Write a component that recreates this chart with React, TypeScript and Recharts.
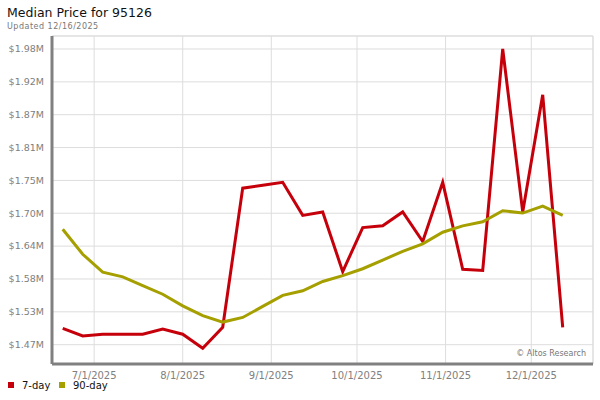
import { LineChart, Line, XAxis, YAxis, CartesianGrid, ReferenceLine } from 'recharts';

// weekly snapshots
const weekDates = [
  '2025-06-20', '2025-06-27', '2025-07-04', '2025-07-11', '2025-07-18', '2025-07-25',
  '2025-08-01', '2025-08-08', '2025-08-15', '2025-08-22', '2025-08-29', '2025-09-05',
  '2025-09-12', '2025-09-19', '2025-09-26', '2025-10-03', '2025-10-10', '2025-10-17',
  '2025-10-24', '2025-10-31', '2025-11-07', '2025-11-14', '2025-11-21', '2025-11-28',
  '2025-12-05', '2025-12-12',
];

const sevenDay = [
  1498000, 1485000, 1488000, 1488000, 1488000, 1497000, 1488000, 1464000, 1500000,
  1740000, 1745000, 1750000, 1693000, 1699000, 1596000, 1672000, 1675000, 1699000,
  1648000, 1750000, 1600000, 1598000, 1980000, 1699000, 1901000, 1500000,
];

const ninetyDay = [
  1669000, 1626000, 1595000, 1587000, 1572000, 1557000, 1537000, 1520000, 1509000,
  1517000, 1536000, 1555000, 1563000, 1579000, 1589000, 1601000, 1616000, 1631000,
  1644000, 1664000, 1675000, 1682000, 1701000, 1697000, 1709000, 1693000,
];

const monthTicks = ['2025-07-01', '2025-08-01', '2025-09-01', '2025-10-01', '2025-11-01', '2025-12-01'];
const priceTicks = [1470000, 1526700, 1583300, 1640000, 1696700, 1753300, 1810000, 1866700, 1923300, 1980000];

const seriesKeys = ['sevenDay', 'ninetyDay'];
const seriesNames = ['7-day', '90-day'];
const seriesColors = ['#c6000b', '#a59f00'];

const DAY = 86400000;
const toTime = (d: string) => Date.parse(d + 'T00:00:00Z');

function formatDate(t: number) {
  const d = new Date(t);
  return `${d.getUTCMonth() + 1}/${d.getUTCDate()}/${d.getUTCFullYear()}`;
}

const formatPrice = (v: number) => `$${(v / 1e6).toFixed(2)}M`;

const data = weekDates.map((d, i) => ({
  t: toTime(d),
  sevenDay: sevenDay[i],
  ninetyDay: ninetyDay[i],
}));

const start = toTime(weekDates[0]);
const xDomain: [number, number] = [start - 3.75 * DAY, start + 185.6 * DAY];
const yDomain: [number, number] = [1436700, 2002400];

const font = '"DejaVu Sans", Verdana, sans-serif';

export default function App() {
  return (
    <div style={{ position: 'absolute', left: 0, top: 0, width: 600, height: 400, background: '#fff', fontFamily: font }}>
      <LineChart width={600} height={400} data={data} margin={{ top: 36, right: 7, bottom: 0, left: 0 }}>
        <CartesianGrid stroke="#dddddd" strokeWidth={1} />
        <ReferenceLine y={yDomain[1]} stroke="#dddddd" strokeWidth={1} />
        <ReferenceLine x={xDomain[1]} stroke="#dddddd" strokeWidth={1} />
        <XAxis
          dataKey="t"
          type="number"
          domain={xDomain}
          ticks={monthTicks.map(toTime)}
          tickFormatter={formatDate}
          height={36}
          tickLine={false}
          axisLine={{ stroke: '#808080', strokeWidth: 3 }}
          tick={{ fill: '#808080', fontSize: 10, fontFamily: font }}
          allowDataOverflow
        />
        <YAxis
          type="number"
          domain={yDomain}
          ticks={priceTicks}
          tickFormatter={formatPrice}
          width={52}
          tickLine={false}
          axisLine={{ stroke: '#808080', strokeWidth: 3 }}
          tick={{ fill: '#808080', fontSize: 9.5, fontFamily: font }}
          allowDataOverflow
        />
        {seriesKeys.map((k, i) => (
          <Line
            key={k}
            type="linear"
            dataKey={k}
            name={seriesNames[i]}
            stroke={seriesColors[i]}
            strokeWidth={3}
            dot={false}
            activeDot={false}
            isAnimationActive={false}
          />
        ))}
      </LineChart>

      {/* title, watermark, legend */}
      <svg width={600} height={400} style={{ position: 'absolute', left: 0, top: 0, pointerEvents: 'none' }}>
        <text x={7} y={16.5} fontSize={12.5} fill="#111" fontFamily={font}>Median Price for 95126</text>
        <text x={7} y={28.5} fontSize={8} fill="#777" fontFamily={font} letterSpacing={0.5}>Updated 12/16/2025</text>
        <text x={586} y={356} fontSize={8} fill="#777" fontFamily={font} textAnchor="end">© Altos Research</text>
        {seriesNames.map((n, i) => (
          <g key={n}>
            <rect x={8 + i * 51} y={382} width={6} height={6} fill={seriesColors[i]} />
            <text x={22 + i * 51} y={389} fontSize={10} fill="#111" fontFamily={font}>{n}</text>
          </g>
        ))}
      </svg>
    </div>
  );
}
